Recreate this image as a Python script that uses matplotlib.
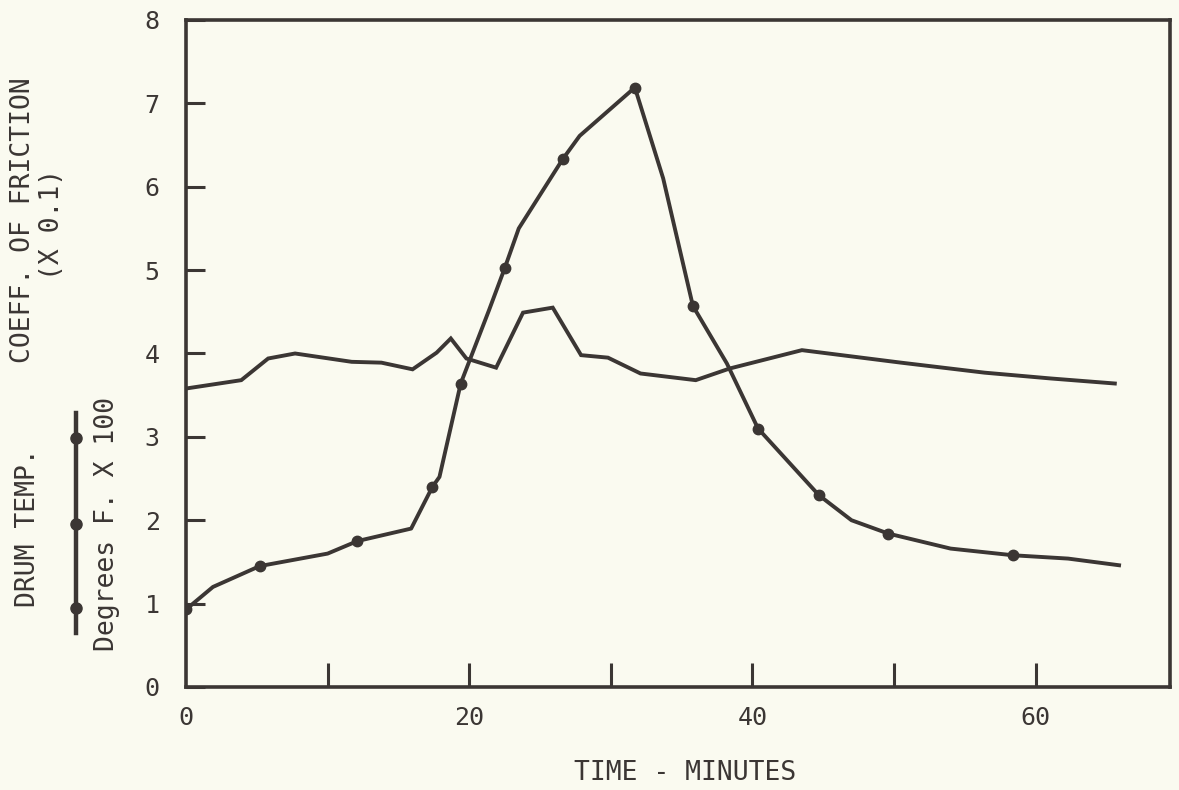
import numpy as np
import matplotlib
matplotlib.use("Agg")
import matplotlib.pyplot as plt
from matplotlib.lines import Line2D

# drum temperature, degrees F x 100
temp_t = [0, 1.9, 5.2, 10, 12.1, 15.9, 17.4, 17.9, 19.4, 21.4, 22.5, 23.5, 26.6, 27.8,
          31.7, 33.7, 35.8, 38.2, 40.4, 44.7, 47, 49.6, 54, 58.4, 62.3, 65.9]
temp_y = [0.93, 1.2, 1.45, 1.6, 1.75, 1.9, 2.4, 2.52, 3.64, 4.52, 5.02, 5.5, 6.33, 6.61,
          7.19, 6.1, 4.57, 3.88, 3.1, 2.3, 2.0, 1.84, 1.66, 1.58, 1.54, 1.46]
temp_marks = [0, 2, 4, 6, 8, 10, 12, 14, 16, 18, 19, 21, 23]

# coefficient of friction x 0.1
fric_t = [0, 3.9, 5.8, 7.7, 11.7, 13.8, 16, 17.7, 18.7, 19.8, 21.9, 23.8, 25.9, 27.9,
          29.8, 32.1, 36, 38.4, 43.5, 50.5, 56.4, 61.1, 65.6]
fric_y = [3.58, 3.68, 3.94, 4.0, 3.9, 3.89, 3.81, 4.01, 4.18, 3.94, 3.83, 4.49, 4.55, 3.98,
          3.95, 3.76, 3.68, 3.82, 4.04, 3.89, 3.77, 3.70, 3.64]

yticks = [0, 1, 2, 3, 4, 5, 6, 7, 8]
xticks = [10, 20, 30, 40, 50, 60]
xlabels = [0, 20, 40, 60]

ink = "#3b3634"
bg = "#fafaf0"
plt.rcParams['font.family'] = ['DejaVu Sans Mono', 'DejaVu Sans']

fig = plt.figure(figsize=(11.79, 7.9), dpi=100, facecolor=bg)
ax = fig.add_axes([0.1578, 0.1304, 0.8346, 0.8443], facecolor=bg)

ax.plot(fric_t, fric_y, color=ink, lw=2.8, solid_joinstyle="miter")
ax.plot(temp_t, temp_y, color=ink, lw=2.8, marker="o", ms=7.5, markevery=temp_marks)

ax.set_xlim(0, 69.5)
ax.set_ylim(0, 8)

for s in ax.spines.values():
    s.set_linewidth(2.6)
    s.set_color(ink)

ax.set_yticks(yticks)
ax.set_yticklabels([str(v) for v in yticks])
ax.tick_params(axis="y", direction="in", length=14, width=2.2, color=ink, pad=19,
               labelsize=18, labelcolor=ink)
ax.set_xticks(xticks)
ax.set_xticklabels([])
ax.tick_params(axis="x", direction="in", length=17, width=2.2, color=ink, labelsize=18)
for v in xlabels:
    ax.annotate(str(v), (v, 0), xytext=(0, -14), textcoords="offset points",
                ha="center", va="top", fontsize=18, color=ink, annotation_clip=False)

ax.set_xlabel("TIME - MINUTES", fontsize=19, color=ink, labelpad=49, x=0.507)

fig.text(0.0195, 0.7215, "COEFF. OF FRICTION", rotation=90, ha="center", va="center",
         fontsize=19, color=ink)
fig.text(0.0441, 0.716, "(X 0.1)", rotation=90, ha="center", va="center",
         fontsize=19, color=ink)
fig.text(0.0237, 0.332, "DRUM TEMP.", rotation=90, ha="center", va="center",
         fontsize=19, color=ink)
fig.text(0.0908, 0.337, "Degrees F. X 100", rotation=90, ha="center", va="center",
         fontsize=19, color=ink)

# little legend key for the temperature curve
lx = 76 / 1179
fig.add_artist(Line2D([lx, lx], [1 - 413 / 790, 1 - 633 / 790], color=ink, lw=3.2))
fig.add_artist(Line2D([lx] * 3, [1 - 438 / 790, 1 - 524 / 790, 1 - 608 / 790], color=ink,
                      lw=0, marker="o", ms=8))

fig.savefig("out.png", dpi=100, facecolor=bg)
